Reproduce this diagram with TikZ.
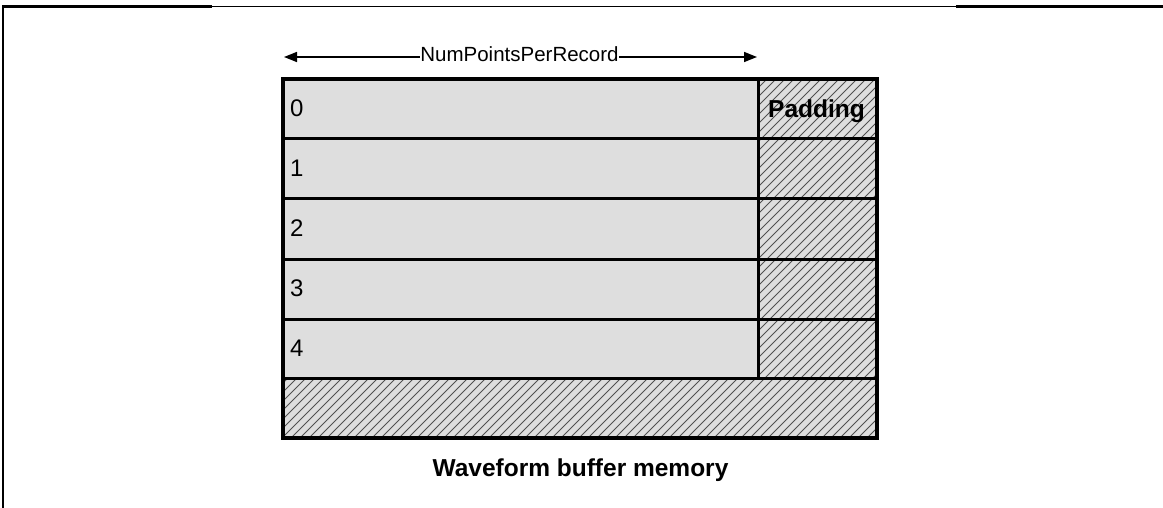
\documentclass[tikz,border=0pt]{standalone}
\usepackage{fontspec}
\setmainfont{Liberation Sans}
\usetikzlibrary{arrows.meta}
\definecolor{cellgray}{HTML}{DEDEDE}
\definecolor{hatchgray}{HTML}{505050}
\begin{document}
\begin{tikzpicture}[x=1pt,y=-1pt,
  framethick/.style={line width=2.6pt},
  framethin/.style={line width=1pt},
  outer/.style={line width=4pt},
  inner/.style={line width=3pt},
  hatchline/.style={line width=0.8pt,draw=hatchgray},
  dim/.style={line width=1.5pt,-{Triangle[length=13pt,width=10pt]}},
  num/.style={anchor=base west,inner sep=0pt,font=\fontsize{24}{28}\selectfont},
  bold/.style={anchor=base,inner sep=0pt,font=\fontsize{24.5}{28}\selectfont\bfseries}]
\useasboundingbox (0,0) rectangle (1163,508);
% frame
\draw[framethick] (3,508) -- (3,6.5) -- (212,6.5);
\draw[framethin] (212,6.5) -- (956,6.5);
\draw[framethick] (956,6.5) -- (1163,6.5);
% box fill
\fill[cellgray] (283,79) rectangle (877,438);
% hatching
\begin{scope}
  \clip (758,79) -- (877,79) -- (877,438) -- (283,438) -- (283,378) -- (758,378) -- cycle;
  \foreach \a in {-80,-71,...,880} {
    \draw[hatchline] (\a,440) -- ++(370,-370);
  }
\end{scope}
% inner lines
\foreach \yy in {139,199,259,319,378} {
  \draw[inner] (283,\yy) -- (877,\yy);
}
\draw[inner] (758,79) -- (758,378);
% outer box
\draw[outer] (283,79) rectangle (877,438);
% labels
\node[num] (r0) at (290,117) {0};
\node[num] (r1) at (290,176.8) {1};
\node[num] (r2) at (290,236.6) {2};
\node[num] (r3) at (290,296.4) {3};
\node[num] (r4) at (290,356.2) {4};
\node[bold] (pad) at (816.5,117.5) {Padding};
\node[bold] (cap) at (580.5,476) {Waveform buffer memory};
% dimension arrow
\coordinate (aL) at (284,57);
\coordinate (aR) at (757,57);
\node[anchor=base,inner xsep=0.5pt,inner ysep=0pt,font=\fontsize{20.5}{24}\selectfont] (lbl) at (519.5,62) {NumPointsPerRecord};
\draw[dim] (lbl.west|-aL) -- (aL);
\draw[dim] (lbl.east|-aR) -- (aR);
\end{tikzpicture}
\end{document}
